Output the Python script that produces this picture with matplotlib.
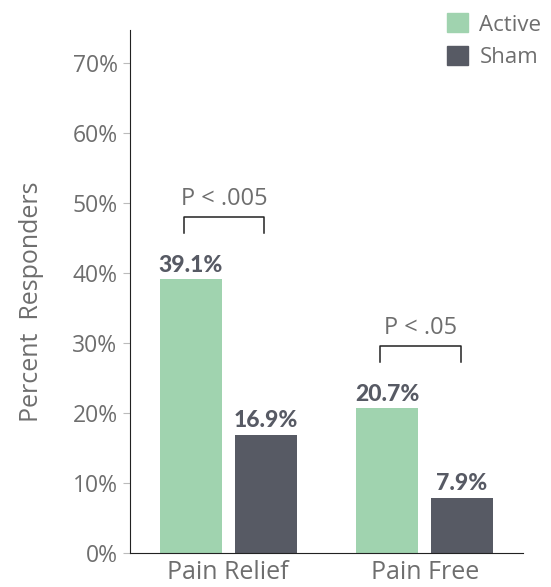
import numpy as np
import matplotlib.pyplot as plt
from matplotlib.patches import Patch

# data
groups = ['Pain Relief', 'Pain Free']
active = [39.1, 20.7]
sham = [16.9, 7.9]
pvals = ['P < .005', 'P < .05']
yticks = [0, 10, 20, 30, 40, 50, 60, 70]

green = '#a0d3af'
dark = '#575a64'
grey = '#6e6e6e'

plt.rcParams['font.family'] = ['Open Sans', 'DejaVu Sans']

fig = plt.figure(figsize=(5.51, 5.87), dpi=100)
ax = fig.add_axes([0.236, 0.058, 0.713, 0.891])

x = np.arange(len(groups))
w = 0.315
off = 0.19
b1 = ax.bar(x - off, active, w, color=green, label='Active', zorder=2)
b2 = ax.bar(x + off, sham, w, color=dark, label='Sham', zorder=2)

for bars, vals in ((b1, active), (b2, sham)):
    for r, v in zip(bars, vals):
        ax.text(r.get_x() + r.get_width() / 2, v + 0.5, '%.1f%%' % v,
                ha='center', va='bottom', fontsize=16.5, fontweight='black',
                color=dark, family=['Lato', 'DejaVu Sans'])

# significance brackets
for i, p in enumerate(pvals):
    y0 = active[i] + 6.6
    y1 = y0 + 2.3
    xl, xr = i - 0.226, i + 0.183
    ax.plot([xl, xl, xr, xr], [y0, y1, y1, y0], color='#222222', lw=1.1)
    ax.text((xl + xr) / 2, y1 + 0.8, p, ha='center', va='bottom',
            fontsize=17, color=grey)

ax.set_xlim(-0.5, 1.5)
ax.set_ylim(0, 74.7)
ax.set_yticks(yticks)
ax.set_yticklabels(['%d%%' % t for t in yticks], fontsize=16.5, color=grey)
ax.set_xticks(x)
ax.set_xticklabels(groups, fontsize=18, color=grey)
ax.tick_params(axis='y', length=5, color='#bbbbbb', pad=4)
ax.tick_params(axis='x', length=0, pad=5)
ax.set_ylabel('Percent  Responders', fontsize=18, color=grey)
ax.yaxis.set_label_coords(-0.22, 0.48)

for s in ('top', 'right'):
    ax.spines[s].set_visible(False)
ax.spines['left'].set_color('#222222')
ax.spines['bottom'].set_color('#222222')

ax.legend(handles=[Patch(color=green), Patch(color=dark)],
          labels=['Active', 'Sham'], loc='upper right',
          bbox_to_anchor=(1.098, 1.07), frameon=False, fontsize=16,
          labelcolor=grey, handlelength=0.95, handleheight=0.95,
          handletextpad=0.5, labelspacing=0.45)

fig.savefig('out.png', dpi=100)
